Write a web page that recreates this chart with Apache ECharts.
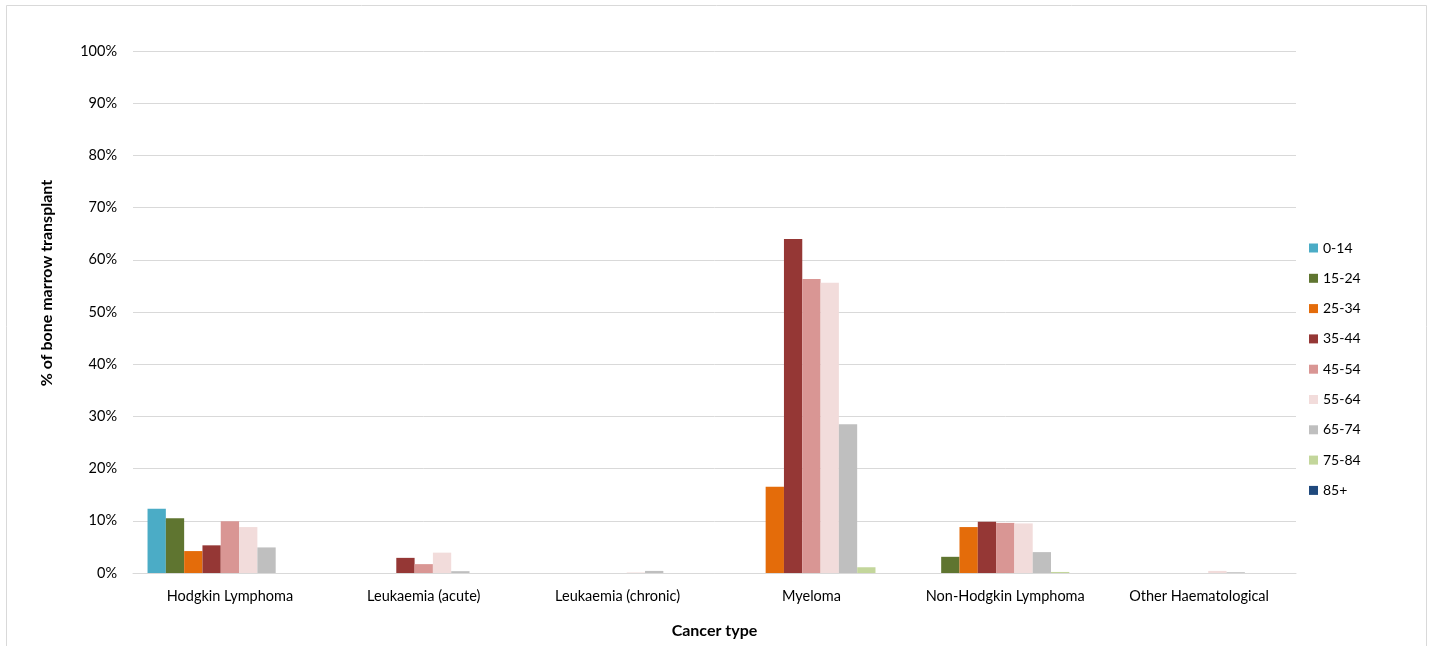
<!DOCTYPE html>
<html>
<head>
<meta charset="utf-8">
<script src="https://cdn.jsdelivr.net/npm/echarts@6/dist/echarts.min.js"></script>
<style>
  html, body { margin: 0; padding: 0; background: #fff; }
  #chart { width: 1433px; height: 646px; }
</style>
</head>
<body>
<div id="chart"></div>
<script>
// Cancer types along the x axis
const categories = ['Hodgkin Lymphoma', 'Leukaemia (acute)', 'Leukaemia (chronic)', 'Myeloma', 'Non-Hodgkin Lymphoma', 'Other Haematological'];

// Age bands (one series each)
const ageBands = ['0-14', '15-24', '25-34', '35-44', '45-54', '55-64', '65-74', '75-84', '85+'];

// Share of bone marrow transplants (%) per age band, in category order
const age0_14  = [12.3, 0, 0, 0, 0, 0];
const age15_24 = [10.5, 0, 0, 0, 3.1, 0];
const age25_34 = [4.2, 0, 0, 16.5, 8.8, 0];
const age35_44 = [5.3, 2.9, 0, 64.0, 9.8, 0];
const age45_54 = [9.9, 1.7, 0, 56.3, 9.6, 0];
const age55_64 = [8.8, 3.9, 0.1, 55.6, 9.5, 0.4];
const age65_74 = [4.9, 0.35, 0.4, 28.5, 4.0, 0.15];
const age75_84 = [0, 0, 0, 1.1, 0.2, 0];
const age85p   = [0, 0, 0, 0, 0, 0];

const seriesValues = [age0_14, age15_24, age25_34, age35_44, age45_54, age55_64, age65_74, age75_84, age85p];
const bandColors = ['#4BACC6', '#5F7530', '#E46C0A', '#953735', '#D99694', '#F2DCDB', '#BFBFBF', '#C3D69B', '#1F497D'];

// Y axis ticks
const yTicks = [0, 10, 20, 30, 40, 50, 60, 70, 80, 90, 100];

const yTitle = '% of bone marrow transplant';
const xTitle = 'Cancer type';

const fontFamily = 'Lato, "Open Sans", sans-serif';

const chart = echarts.init(document.getElementById('chart'), null, { renderer: 'canvas' });

chart.setOption({
  animation: false,
  backgroundColor: '#ffffff',
  textStyle: { fontFamily: fontFamily },
  graphic: [
    {
      type: 'rect',
      shape: { x: 6.5, y: 5.5, width: 1420, height: 660 },
      style: { fill: 'none', stroke: '#D9D9D9', lineWidth: 1 },
      silent: true
    },
    {
      // vertical axis title
      type: 'text',
      x: 47,
      y: 283,
      rotation: Math.PI / 2,
      style: {
        text: yTitle,
        fill: '#000',
        font: 'bold 16px ' + fontFamily,
        align: 'center',
        verticalAlign: 'middle'
      },
      silent: true
    }
  ],
  grid: { left: 133, width: 1163, top: 51, height: 522, containLabel: false },
  legend: {
    orient: 'vertical',
    left: 1304,
    top: 236,
    itemWidth: 9,
    itemHeight: 9,
    itemGap: 16.3,
    icon: 'rect',
    textStyle: { fontFamily: fontFamily, fontSize: 14, color: '#000' },
    data: ageBands
  },
  xAxis: {
    type: 'category',
    data: categories,
    name: xTitle,
    nameLocation: 'middle',
    nameGap: 50,
    nameTextStyle: { fontFamily: fontFamily, fontSize: 16, fontWeight: 'bold', color: '#000' },
    axisLine: { lineStyle: { color: '#D9D9D9', width: 1 } },
    axisTick: { show: false },
    axisLabel: { interval: 0, color: '#000', fontSize: 14.5, fontFamily: fontFamily, margin: 16 }
  },
  yAxis: {
    type: 'value',
    min: 0,
    max: 100,
    interval: 10,
    axisLine: { show: false },
    axisTick: { show: false },
    splitLine: { lineStyle: { color: '#D9D9D9', width: 1 } },
    axisLabel: {
      color: '#000', fontSize: 14.5, fontFamily: fontFamily, margin: 16,
      formatter: function (v) { return yTicks.indexOf(v) >= 0 ? v + '%' : ''; }
    }
  },
  series: ageBands.map(function (band, i) {
    return {
      name: band,
      type: 'bar',
      data: seriesValues[i],
      barGap: '0%',
      barCategoryGap: '15%',
      itemStyle: { color: bandColors[i] }
    };
  })
});
</script>
</body>
</html>
